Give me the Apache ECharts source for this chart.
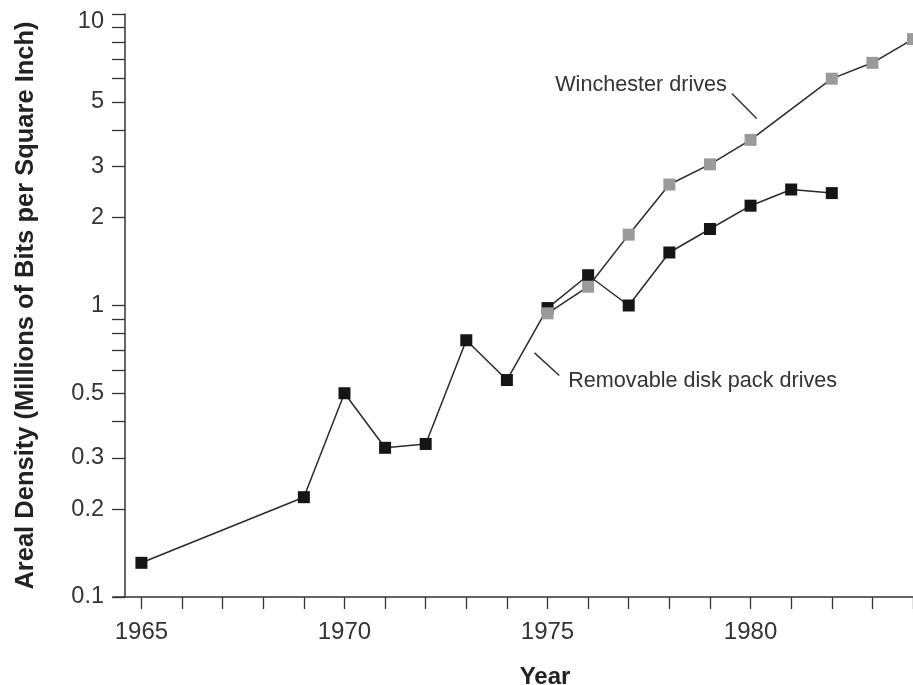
<!DOCTYPE html>
<html><head><meta charset="utf-8">
<script src="https://cdn.jsdelivr.net/npm/echarts@6/dist/echarts.min.js"></script>
<style>html,body{margin:0;padding:0;background:#fff}#c{width:913px;height:685px}</style>
</head><body><div id="c"></div>
<script>
const diskYears = [1965, 1969, 1970, 1971, 1972, 1973, 1974, 1975, 1976, 1977, 1978, 1979, 1980, 1981, 1982];
const diskValues = [0.131, 0.22, 0.50, 0.325, 0.335, 0.76, 0.555, 0.98, 1.27, 1.0, 1.52, 1.83, 2.2, 2.5, 2.43];
const winYears = [1975, 1976, 1977, 1978, 1979, 1980, 1982, 1983, 1984];
const winValues = [0.94, 1.16, 1.75, 2.6, 3.05, 3.7, 6.0, 6.8, 8.2];
const yTickValues = [0.1, 0.2, 0.3, 0.4, 0.5, 0.6, 0.7, 0.8, 0.9, 1, 2, 3, 4, 5, 6, 7, 8, 9, 10];
const yLabelValues = [0.1, 0.2, 0.3, 0.5, 1, 2, 3, 5, 10];
const xTickValues = [1965, 1966, 1967, 1968, 1969, 1970, 1971, 1972, 1973, 1974, 1975, 1976, 1977, 1978, 1979, 1980, 1981, 1982, 1983, 1984];
const xLabelValues = [1965, 1970, 1975, 1980];
const yTitle = 'Areal Density (Millions of Bits per Square Inch)';
const xTitle = 'Year';
const winLabel = 'Winchester drives';
const diskLabel = 'Removable disk pack drives';
// annotation anchors in data space [year, value]
const winTextAt = [1975.19, 5.7];
const winLeader = [[1979.54, 5.34], [1980.15, 4.38]];
const diskTextAt = [1975.51, 0.5525];
const diskLeader = [[1974.68, 0.688], [1975.29, 0.575]];

const FONT = '"Liberation Sans", Arial, Helvetica, sans-serif';
const AX = '#333';
const chart = echarts.init(document.getElementById('c'), null, {renderer: 'canvas'});
const zip = (xs, ys) => xs.map((x, i) => [x, ys[i]]);
chart.setOption({
  animation: false,
  backgroundColor: '#fff',
  textStyle: {fontFamily: FONT},
  grid: {left: 113, right: 0, top: 14, bottom: 88, containLabel: false, outerBoundsMode: 'none'},
  xAxis: {
    type: 'value', min: 1964.3, max: 1984,
    name: xTitle, nameLocation: 'middle', nameGap: 68,
    nameTextStyle: {fontFamily: FONT, fontSize: 24, fontWeight: 'bold', color: '#222', padding: [0, 0, 0, 64]},
    axisLine: {show: true, onZero: false, lineStyle: {color: AX, width: 1.5}},
    axisTick: {show: true, length: 12, customValues: xTickValues, lineStyle: {color: AX, width: 1.3}},
    axisLabel: {customValues: xLabelValues, margin: 23, fontSize: 24, color: '#333', fontFamily: FONT,
      formatter: v => String(Math.round(v))},
    splitLine: {show: false}
  },
  yAxis: {
    type: 'log', logBase: 10, min: 0.1, max: 10, offset: -12,
    name: yTitle, nameLocation: 'middle', nameGap: 86, nameRotate: 90,
    nameTextStyle: {fontFamily: FONT, fontSize: 25.5, fontWeight: 'bold', color: '#222'},
    axisLine: {show: true, lineStyle: {color: AX, width: 1.5}},
    axisTick: {show: true, length: 13, customValues: yTickValues, lineStyle: {color: AX, width: 1.3}},
    axisLabel: {customValues: yLabelValues, margin: 21, fontSize: 23.5, color: '#333', fontFamily: FONT,
      formatter: v => { const s = String(+Number(v).toPrecision(3)); return s === '10' ? '{t|10}' : s; },
      rich: {t: {padding: [16, 0, 0, 0], fontSize: 23.5, color: '#333', fontFamily: FONT}}},
    splitLine: {show: false}, minorTick: {show: false}
  },
  series: [
    {
      type: 'line', name: diskLabel, data: zip(diskYears, diskValues),
      symbol: 'rect', symbolSize: 12, showSymbol: true, showAllSymbol: true, clip: false,
      itemStyle: {color: '#151515', borderWidth: 0},
      lineStyle: {color: '#2a2a2a', width: 1.5}, z: 2
    },
    {
      type: 'line', name: winLabel, data: zip(winYears, winValues),
      symbol: 'rect', symbolSize: 12, showSymbol: true, showAllSymbol: true, clip: false,
      itemStyle: {color: '#9a9a9a', borderWidth: 0},
      lineStyle: {color: '#2a2a2a', width: 1.5}, z: 3
    }
  ]
});

function px(p) { return chart.convertToPixel({gridIndex: 0}, p); }
function leader(seg) {
  const a = px(seg[0]), b = px(seg[1]);
  return {type: 'line', shape: {x1: a[0], y1: a[1], x2: b[0], y2: b[1]}, style: {stroke: '#333', lineWidth: 1.5}, z: 10};
}
function label(text, at) {
  const p = px(at);
  return {type: 'text', x: p[0], y: p[1], style: {text: text, font: '21.6px ' + FONT, fill: '#333', textAlign: 'left', textVerticalAlign: 'middle'}, z: 10};
}
chart.setOption({graphic: [
  label(winLabel, winTextAt), leader(winLeader),
  label(diskLabel, diskTextAt), leader(diskLeader)
]});
</script>
</body></html>
